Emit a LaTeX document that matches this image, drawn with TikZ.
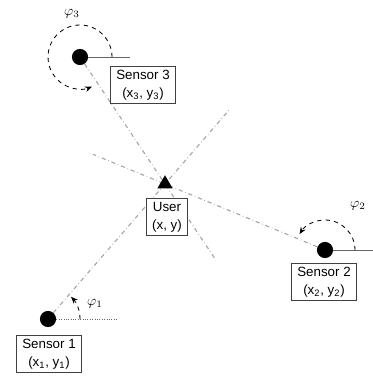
\documentclass[tikz,border=0pt]{standalone}
\usepackage{fontspec}
\setmainfont{Liberation Sans}
\usetikzlibrary{arrows.meta,calc,shapes.geometric,backgrounds}

\tikzset{
  sensor/.style={circle, fill=black, inner sep=0pt, minimum size=11.5pt},
  infobox/.style={draw=black!75, fill=white, line width=0.6pt, align=center,
    inner xsep=4pt, inner ysep=2.5pt, font=\fontsize{9.5}{13}\selectfont},
  ray/.style={draw=black!35, dash dot, line width=0.8pt},
  angarc/.style={dashed, line width=0.6pt, -{Stealth[length=5pt,width=4pt]}},
  axisline/.style={black!60, line width=0.7pt},
}

\begin{document}
\begin{tikzpicture}[x=0.025cm, y=0.025cm]
        \useasboundingbox (0,0) rectangle (373,390);

        \node[sensor] (s3) at (80,333) {};
        \node[sensor] (s2) at (325,140) {};
        \node[sensor] (s1) at (48,71) {};
        \node[regular polygon, regular polygon sides=3, fill=black, inner sep=0pt,
              minimum size=12.5pt] (tri) at (165,206) {};

        \begin{pgfonlayer}{background}
        \coordinate (e3) at ($(s3)!1.6!(tri)$);
        \coordinate (e2) at ($(s2)!1.45!(tri)$);
        \coordinate (e1) at ($(s1)!1.55!(tri)$);
        \draw[ray] (s3) -- (e3);
        \draw[ray] (s2) -- (e2);
        \draw[ray] (s1) -- (e1);
        \end{pgfonlayer}

        \coordinate (h3) at (130,333);
        \coordinate (h2) at (373,140);
        \coordinate (h1) at (117,71);
        \draw[axisline] (s3) -- (h3);
        \draw[axisline] (s2) -- (h2);
        \draw[axisline, densely dotted] (s1) -- (h1);

        \draw[angarc] ($(s3)+(32,0)$) arc[start angle=0, end angle=292, radius=32];
        \draw[angarc] ($(s2)+(30,0)$) arc[start angle=0, end angle=148, radius=30];
        \draw[angarc] ($(s1)+(32,0)$) arc[start angle=0, end angle=44, radius=32];

        \node (phi3) at (72,376) {$\varphi_3$};
        \node (phi2) at (358,184) {$\varphi_2$};
        \node (phi1) at (95,86) {$\varphi_1$};

        \node[infobox] (box3) at (143,305) {Sensor 3\\(x\textsubscript{3}, y\textsubscript{3})};
        \node[infobox] (user) at (167,173) {User\\(x, y)};
        \node[infobox] (box2) at (324,108) {Sensor 2\\(x\textsubscript{2}, y\textsubscript{2})};
        \node[infobox] (box1) at (49,36) {Sensor 1\\(x\textsubscript{1}, y\textsubscript{1})};

    \end{tikzpicture}
\end{document}
